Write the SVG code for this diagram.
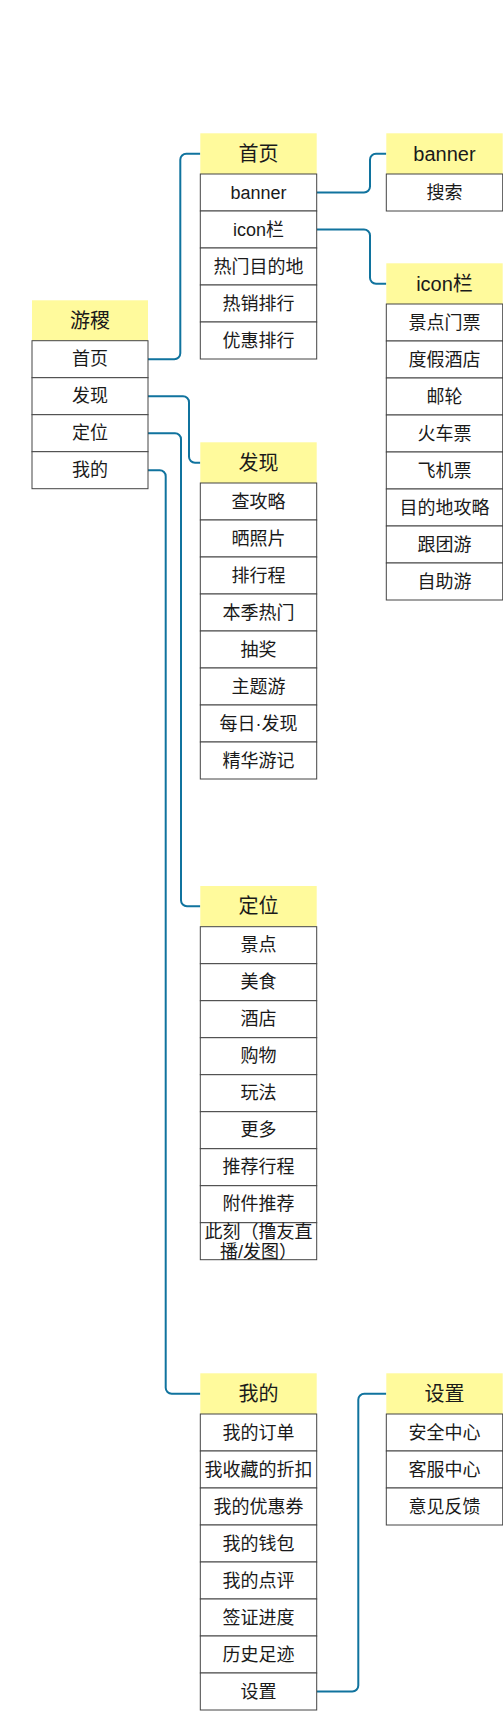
<svg xmlns="http://www.w3.org/2000/svg" width="503" height="1711" viewBox="0 0 503 1711">
<style>
.hd{fill:#FFFA9C;stroke:none}
.row{fill:#ffffff;stroke:#444444;stroke-width:1}
.ht{font-family:"Liberation Sans","Noto Sans CJK SC",sans-serif;font-size:20px;fill:#1a1a1a;text-anchor:middle;dominant-baseline:central}
.rt{font-family:"Liberation Sans","Noto Sans CJK SC",sans-serif;font-size:18px;fill:#1a1a1a;text-anchor:middle;dominant-baseline:central}
.cn{fill:none;stroke:#10739E;stroke-width:2}
</style>
<rect width="503" height="1711" fill="#ffffff"/>
<g id="connectors">
<path class="cn" d="M148,359.2 H174.3 A6,6 0 0 0 180.3,353.2 V159.7 A6,6 0 0 1 186.3,153.7 H200.3"/>
<path class="cn" d="M148,396.2 H183 A6,6 0 0 1 189,402.2 V456.7 A6,6 0 0 0 195,462.7 H200.3"/>
<path class="cn" d="M148,433.2 H175 A6,6 0 0 1 181,439.2 V900.3 A6,6 0 0 0 187,906.3 H200.3"/>
<path class="cn" d="M148,470.2 H159.7 A6,6 0 0 1 165.7,476.2 V1387.7 A6,6 0 0 0 171.7,1393.7 H200.3"/>
<path class="cn" d="M316.7,192.5 H364 A6,6 0 0 0 370,186.5 V159.7 A6,6 0 0 1 376,153.7 H386.3"/>
<path class="cn" d="M316.7,229.5 H364 A6,6 0 0 1 370,235.5 V277.7 A6,6 0 0 0 376,283.7 H386.3"/>
<path class="cn" d="M316.7,1691.5 H352.3 A6,6 0 0 0 358.3,1685.5 V1399.7 A6,6 0 0 1 364.3,1393.7 H386.3"/>
</g>
<g id="node-youji">
<rect class="hd" x="32" y="300.3" width="116" height="40.4"/>
<text class="ht" x="90" y="320.5">游稷</text>
<rect class="row" x="32" y="340.7" width="116" height="37"/><text class="rt" x="90" y="359.2">首页</text>
<rect class="row" x="32" y="377.7" width="116" height="37"/><text class="rt" x="90" y="396.2">发现</text>
<rect class="row" x="32" y="414.7" width="116" height="37"/><text class="rt" x="90" y="433.2">定位</text>
<rect class="row" x="32" y="451.7" width="116" height="37"/><text class="rt" x="90" y="470.2">我的</text>
</g>
<g id="node-shouye">
<rect class="hd" x="200.3" y="133.3" width="116.4" height="40.7"/>
<text class="ht" x="258.5" y="153.7">首页</text>
<rect class="row" x="200.3" y="174" width="116.4" height="37"/><text class="rt" x="258.5" y="192.5">banner</text>
<rect class="row" x="200.3" y="211" width="116.4" height="37"/><text class="rt" x="258.5" y="229.5">icon栏</text>
<rect class="row" x="200.3" y="248" width="116.4" height="37"/><text class="rt" x="258.5" y="266.5">热门目的地</text>
<rect class="row" x="200.3" y="285" width="116.4" height="37"/><text class="rt" x="258.5" y="303.5">热销排行</text>
<rect class="row" x="200.3" y="322" width="116.4" height="37"/><text class="rt" x="258.5" y="340.5">优惠排行</text>
</g>
<g id="node-banner">
<rect class="hd" x="386.3" y="133.3" width="116.4" height="40.7"/>
<text class="ht" x="444.5" y="153.7">banner</text>
<rect class="row" x="386.3" y="174" width="116.4" height="37"/><text class="rt" x="444.5" y="192.5">搜索</text>
</g>
<g id="node-iconlan">
<rect class="hd" x="386.3" y="263.3" width="116.4" height="40.7"/>
<text class="ht" x="444.5" y="283.7">icon栏</text>
<rect class="row" x="386.3" y="304" width="116.4" height="37"/><text class="rt" x="444.5" y="322.5">景点门票</text>
<rect class="row" x="386.3" y="341" width="116.4" height="37"/><text class="rt" x="444.5" y="359.5">度假酒店</text>
<rect class="row" x="386.3" y="378" width="116.4" height="37"/><text class="rt" x="444.5" y="396.5">邮轮</text>
<rect class="row" x="386.3" y="415" width="116.4" height="37"/><text class="rt" x="444.5" y="433.5">火车票</text>
<rect class="row" x="386.3" y="452" width="116.4" height="37"/><text class="rt" x="444.5" y="470.5">飞机票</text>
<rect class="row" x="386.3" y="489" width="116.4" height="37"/><text class="rt" x="444.5" y="507.5">目的地攻略</text>
<rect class="row" x="386.3" y="526" width="116.4" height="37"/><text class="rt" x="444.5" y="544.5">跟团游</text>
<rect class="row" x="386.3" y="563" width="116.4" height="37"/><text class="rt" x="444.5" y="581.5">自助游</text>
</g>
<g id="node-faxian">
<rect class="hd" x="200.3" y="442.3" width="116.4" height="40.7"/>
<text class="ht" x="258.5" y="462.7">发现</text>
<rect class="row" x="200.3" y="483" width="116.4" height="37"/><text class="rt" x="258.5" y="501.5">查攻略</text>
<rect class="row" x="200.3" y="520" width="116.4" height="37"/><text class="rt" x="258.5" y="538.5">晒照片</text>
<rect class="row" x="200.3" y="557" width="116.4" height="37"/><text class="rt" x="258.5" y="575.5">排行程</text>
<rect class="row" x="200.3" y="594" width="116.4" height="37"/><text class="rt" x="258.5" y="612.5">本季热门</text>
<rect class="row" x="200.3" y="631" width="116.4" height="37"/><text class="rt" x="258.5" y="649.5">抽奖</text>
<rect class="row" x="200.3" y="668" width="116.4" height="37"/><text class="rt" x="258.5" y="686.5">主题游</text>
<rect class="row" x="200.3" y="705" width="116.4" height="37"/><text class="rt" x="258.5" y="723.5">每日·发现</text>
<rect class="row" x="200.3" y="742" width="116.4" height="37"/><text class="rt" x="258.5" y="760.5">精华游记</text>
</g>
<g id="node-dingwei">
<rect class="hd" x="200.3" y="886" width="116.4" height="40.7"/>
<text class="ht" x="258.5" y="906.3">定位</text>
<rect class="row" x="200.3" y="926.7" width="116.4" height="37"/><text class="rt" x="258.5" y="945.2">景点</text>
<rect class="row" x="200.3" y="963.7" width="116.4" height="37"/><text class="rt" x="258.5" y="982.2">美食</text>
<rect class="row" x="200.3" y="1000.7" width="116.4" height="37"/><text class="rt" x="258.5" y="1019.2">酒店</text>
<rect class="row" x="200.3" y="1037.7" width="116.4" height="37"/><text class="rt" x="258.5" y="1056.2">购物</text>
<rect class="row" x="200.3" y="1074.7" width="116.4" height="37"/><text class="rt" x="258.5" y="1093.2">玩法</text>
<rect class="row" x="200.3" y="1111.7" width="116.4" height="37"/><text class="rt" x="258.5" y="1130.2">更多</text>
<rect class="row" x="200.3" y="1148.7" width="116.4" height="37"/><text class="rt" x="258.5" y="1167.2">推荐行程</text>
<rect class="row" x="200.3" y="1185.7" width="116.4" height="37"/><text class="rt" x="258.5" y="1204.2">附件推荐</text>
<rect class="row" x="200.3" y="1222.7" width="116.4" height="37"/>
<text class="rt"><tspan x="258.5" y="1231.7">此刻（撸友直</tspan><tspan x="258.5" y="1252.3">播/发图）</tspan></text>
</g>
<g id="node-wode">
<rect class="hd" x="200.3" y="1373.3" width="116.4" height="40.7"/>
<text class="ht" x="258.5" y="1393.7">我的</text>
<rect class="row" x="200.3" y="1414" width="116.4" height="37"/><text class="rt" x="258.5" y="1432.5">我的订单</text>
<rect class="row" x="200.3" y="1451" width="116.4" height="37"/><text class="rt" x="258.5" y="1469.5">我收藏的折扣</text>
<rect class="row" x="200.3" y="1488" width="116.4" height="37"/><text class="rt" x="258.5" y="1506.5">我的优惠券</text>
<rect class="row" x="200.3" y="1525" width="116.4" height="37"/><text class="rt" x="258.5" y="1543.5">我的钱包</text>
<rect class="row" x="200.3" y="1562" width="116.4" height="37"/><text class="rt" x="258.5" y="1580.5">我的点评</text>
<rect class="row" x="200.3" y="1599" width="116.4" height="37"/><text class="rt" x="258.5" y="1617.5">签证进度</text>
<rect class="row" x="200.3" y="1636" width="116.4" height="37"/><text class="rt" x="258.5" y="1654.5">历史足迹</text>
<rect class="row" x="200.3" y="1673" width="116.4" height="37"/><text class="rt" x="258.5" y="1691.5">设置</text>
</g>
<g id="node-shezhi">
<rect class="hd" x="386.3" y="1373.3" width="116.4" height="40.7"/>
<text class="ht" x="444.5" y="1393.7">设置</text>
<rect class="row" x="386.3" y="1414" width="116.4" height="37"/><text class="rt" x="444.5" y="1432.5">安全中心</text>
<rect class="row" x="386.3" y="1451" width="116.4" height="37"/><text class="rt" x="444.5" y="1469.5">客服中心</text>
<rect class="row" x="386.3" y="1488" width="116.4" height="37"/><text class="rt" x="444.5" y="1506.5">意见反馈</text>
</g>
</svg>
